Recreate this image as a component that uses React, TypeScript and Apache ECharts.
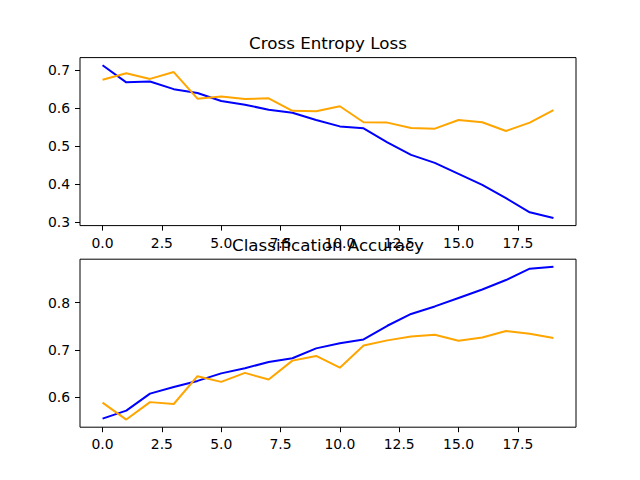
import React, { useEffect, useRef } from "react";
import * as echarts from "echarts";

const epochs = [0, 1, 2, 3, 4, 5, 6, 7, 8, 9, 10, 11, 12, 13, 14, 15, 16, 17, 18, 19];
const trainLoss = [0.712, 0.667, 0.669, 0.649, 0.639, 0.618, 0.608, 0.595, 0.587, 0.568, 0.551, 0.546, 0.509, 0.476, 0.455, 0.426, 0.397, 0.362, 0.325, 0.31];
const testLoss = [0.674, 0.691, 0.676, 0.694, 0.624, 0.63, 0.623, 0.625, 0.592, 0.591, 0.604, 0.562, 0.561, 0.547, 0.545, 0.568, 0.562, 0.539, 0.561, 0.594];
const trainAcc = [0.554, 0.571, 0.607, 0.621, 0.634, 0.65, 0.661, 0.674, 0.682, 0.703, 0.714, 0.722, 0.751, 0.776, 0.792, 0.81, 0.828, 0.848, 0.872, 0.876];
const testAcc = [0.588, 0.552, 0.589, 0.585, 0.644, 0.632, 0.651, 0.637, 0.677, 0.687, 0.662, 0.709, 0.72, 0.728, 0.732, 0.719, 0.726, 0.74, 0.734, 0.725];

const xTicks = [0, 2.5, 5, 7.5, 10, 12.5, 15, 17.5];
const lossTicks = [0.3, 0.4, 0.5, 0.6, 0.7];
const accTicks = [0.6, 0.7, 0.8];

const titles = ["Cross Entropy Loss", "Classification Accuracy"];

const FONT = "DejaVu Sans";

function pad(arr: number[]) {
  const mn = Math.min(...arr);
  const mx = Math.max(...arr);
  const r = mx - mn;
  return [mn - 0.05 * r, mx + 0.05 * r];
}

export default function App() {
  const ref = useRef<HTMLDivElement>(null);
  useEffect(() => {
    if (!ref.current) return;
    const chart = echarts.init(ref.current, null, { renderer: "svg" });
    const [lmin, lmax] = pad([...trainLoss, ...testLoss]);
    const [amin, amax] = pad([...trainAcc, ...testAcc]);
    const xmin = -0.95;
    const xmax = 19.95;
    const gridH = 168;
    const tops = [57.6, 259.2];

    const axisCommon = (ticks: number[]) => ({
      axisLine: { show: false, onZero: false },
      splitLine: { show: false },
      axisTick: {
        show: true,
        inside: false,
        length: 5,
        customValues: ticks,
        lineStyle: { color: "#000", width: 1 },
      },
      axisLabel: {
        show: true,
        customValues: ticks,
        margin: 10,
        formatter: (v: number) => v.toFixed(1),
        fontFamily: FONT,
        fontSize: 13.9,
        color: "#000",
      },
    });

    const xAxisBase = (gi: number) => ({
      type: "value",
      gridIndex: gi,
      position: "bottom",
      min: xmin,
      max: xmax,
      ...axisCommon(xTicks),
    });
    const yAxisBase = (gi: number, mn: number, mx: number, ticks: number[]) => ({
      type: "value",
      gridIndex: gi,
      position: "left",
      min: mn,
      max: mx,
      ...axisCommon(ticks),
    });

    const line = (data: number[], color: string, gi: number) => ({
      type: "line",
      xAxisIndex: gi,
      yAxisIndex: gi,
      data: epochs.map((e, i) => [e, data[i]]),
      showSymbol: false,
      symbol: "none",
      lineStyle: { color, width: 2 },
      itemStyle: { color },
      z: 2,
    });

    chart.setOption({
      animation: false,
      backgroundColor: "#fff",
      grid: tops.map((t) => ({
        left: 80,
        width: 496,
        top: t,
        height: gridH,
        show: true,
        borderColor: "#000",
        borderWidth: 1,
        backgroundColor: "transparent",
        z: 3,
      })),
      xAxis: [xAxisBase(0), xAxisBase(1)],
      yAxis: [yAxisBase(0, lmin, lmax, lossTicks), yAxisBase(1, amin, amax, accTicks)],
      series: [
        line(trainLoss, "#0000ff", 0),
        line(testLoss, "#ffa500", 0),
        line(trainAcc, "#0000ff", 1),
        line(testAcc, "#ffa500", 1),
      ],
      graphic: titles.map((t, i) => ({
        type: "text",
        x: 328,
        y: tops[i] - 14.6,
        z: 10,
        style: {
          text: t,
          textAlign: "center",
          textVerticalAlign: "middle",
          fontFamily: FONT,
          fontSize: 16.7,
          fill: "#000",
        },
      })),
    });
    return () => chart.dispose();
  }, []);
  return (
    <div
      ref={ref}
      style={{ position: "absolute", left: 0, top: 0, width: 640, height: 480 }}
    />
  );
}
